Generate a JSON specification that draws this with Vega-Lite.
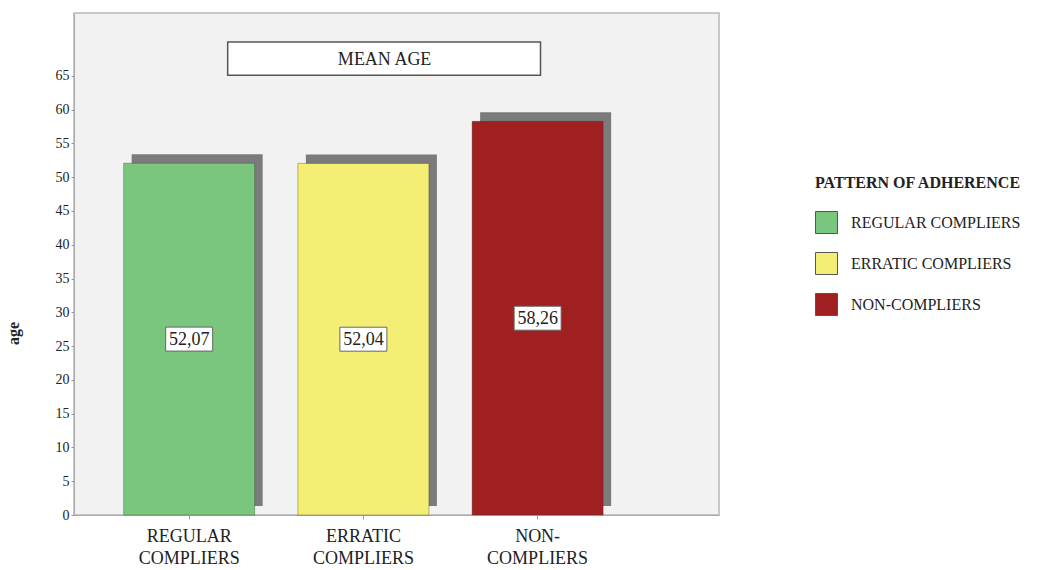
{
  "$schema": "https://vega.github.io/schema/vega-lite/v6.json",
  "autosize": "none",
  "width": 645,
  "height": 502,
  "padding": {"left": 74, "top": 13, "right": 324, "bottom": 55},
  "background": "white",
  "config": {
    "view": {"fill": "#f2f2f2", "stroke": "#b8b8b8", "strokeWidth": 1.5},
    "font": "Liberation Serif",
    "axisY": {
      "titleFont": "Liberation Serif",
      "titleFontSize": 16,
      "titleFontWeight": "bold",
      "titleColor": "#222",
      "labelOverlap": false,
      "grid": false,
      "labelFont": "Liberation Serif",
      "labelFontSize": 14,
      "labelColor": "#222",
      "labelPadding": 2,
      "tickSize": 3,
      "tickColor": "#999",
      "domainColor": "#aaa"
    }
  },
  "data": {
    "values": [
      {"group": "REGULAR COMPLIERS", "age": 52.07, "label": "52,07"},
      {"group": "ERRATIC COMPLIERS", "age": 52.04, "label": "52,04"},
      {"group": "NON-COMPLIERS", "age": 58.26, "label": "58,26"}
    ]
  },
  "encoding": {
    "x": {
      "field": "group",
      "type": "nominal",
      "sort": null,
      "scale": {"paddingInner": 0.248, "paddingOuter": 0.475, "align": 0.3},
      "axis": {
        "title": null,
        "labelAngle": 0,
        "labelFont": "Liberation Serif",
        "labelFontSize": 18,
        "labelColor": "#222",
        "labelLineHeight": 22,
        "labelPadding": 8,
        "labelExpr": "datum.value == 'NON-COMPLIERS' ? ['NON-', 'COMPLIERS'] : split(datum.value, ' ')",
        "domainColor": "#aaa",
        "tickColor": "#999",
        "tickSize": 4
      }
    }
  },
  "layer": [
    {
      "mark": {"type": "bar", "color": "#7b7b7b", "xOffset": 8, "yOffset": -9},
      "encoding": {
        "y": {
          "field": "age",
          "type": "quantitative",
          "scale": {"domain": [0, 74.3], "nice": false},
          "axis": {"title": "age", "titleX": -53, "titleY": 320, "values": [0, 5, 10, 15, 20, 25, 30, 35, 40, 45, 50, 55, 60, 65]}
        }
      }
    },
    {
      "mark": {"type": "bar", "strokeWidth": 1, "strokeOpacity": 0.35, "stroke": "#333"},
      "encoding": {
        "y": {"field": "age", "type": "quantitative", "axis": {"title": "age", "titleX": -53, "titleY": 320, "values": [0, 5, 10, 15, 20, 25, 30, 35, 40, 45, 50, 55, 60, 65]}},
        "color": {
          "field": "group",
          "type": "nominal",
          "sort": null,
          "scale": {
            "domain": ["REGULAR COMPLIERS", "ERRATIC COMPLIERS", "NON-COMPLIERS"],
            "range": ["#7bc67e", "#f5ee74", "#a01f21"]
          },
          "legend": {
            "title": "PATTERN OF ADHERENCE",
            "orient": "none",
            "legendX": 741,
            "legendY": 162,
            "titleFont": "Liberation Serif",
            "titleFontSize": 16,
            "titleFontWeight": "bold",
            "titleColor": "#222",
            "titlePadding": 20,
            "titleLimit": 400,
            "labelLimit": 400,
            "labelFont": "Liberation Serif",
            "labelFontSize": 16,
            "labelColor": "#222",
            "labelOffset": 13,
            "symbolType": "square",
            "symbolSize": 484,
            "symbolStrokeColor": "#555",
            "symbolStrokeWidth": 1,
            "symbolOpacity": 1,
            "rowPadding": 14
          }
        }
      }
    },
    {
      "transform": [{"calculate": "datum.age / 2", "as": "mid"}],
      "mark": {"type": "point", "shape": "M-1,-0.51H1V0.51H-1Z", "size": 2209, "filled": true, "fill": "white", "stroke": "#666", "strokeWidth": 1, "opacity": 1},
      "encoding": {"y": {"field": "mid", "type": "quantitative", "axis": {"title": "age", "titleX": -53, "titleY": 320, "values": [0, 5, 10, 15, 20, 25, 30, 35, 40, 45, 50, 55, 60, 65]}}}
    },
    {
      "transform": [{"calculate": "datum.age / 2", "as": "mid"}],
      "mark": {"type": "text", "font": "Liberation Serif", "fontSize": 18, "color": "#222", "baseline": "middle", "dy": 1},
      "encoding": {
        "y": {"field": "mid", "type": "quantitative", "axis": {"title": "age", "titleX": -53, "titleY": 320, "values": [0, 5, 10, 15, 20, 25, 30, 35, 40, 45, 50, 55, 60, 65]}},
        "text": {"field": "label"}
      }
    },
    {
      "data": {"values": [{"title": "MEAN AGE"}]},
      "mark": {"type": "rect", "fill": "white", "stroke": "#555", "strokeWidth": 1.5},
      "encoding": {
        "x": {"datum": "REGULAR COMPLIERS", "bandPosition": 0.794},
        "x2": {"datum": "NON-COMPLIERS", "bandPosition": 0.522},
        "y": {"datum": 65.1, "type": "quantitative", "axis": {"title": "age", "titleX": -53, "titleY": 320, "values": [0, 5, 10, 15, 20, 25, 30, 35, 40, 45, 50, 55, 60, 65]}},
        "y2": {"datum": 70}
      }
    },
    {
      "data": {"values": [{"title": "MEAN AGE"}]},
      "mark": {"type": "text", "font": "Liberation Serif", "fontSize": 18, "color": "#222", "baseline": "middle", "dy": 1},
      "encoding": {
        "x": {"datum": "ERRATIC COMPLIERS", "bandPosition": 0.662},
        "y": {"datum": 67.55, "type": "quantitative", "axis": {"title": "age", "titleX": -53, "titleY": 320, "values": [0, 5, 10, 15, 20, 25, 30, 35, 40, 45, 50, 55, 60, 65]}},
        "text": {"field": "title"}
      }
    }
  ]
}
